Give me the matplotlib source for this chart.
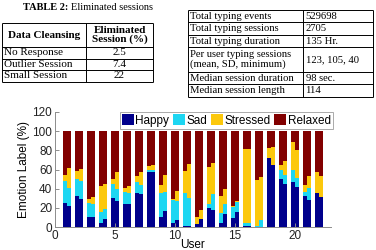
import numpy as np
import matplotlib.pyplot as plt

# ---- table data ----
clean_cols = ['Data Cleansing', 'Eliminated\nSession (%)']
clean_rows = [['No Response', '2.5'],
              ['Outlier Session', '7.4'],
              ['Small Session', '22']]
stats_rows = [['Total typing events', '529698'],
              ['Total typing sessions', '2705'],
              ['Total typing duration', '135 Hr.'],
              ['Per user typing sessions\n(mean, SD, minimum)', '123, 105, 40'],
              ['Median session duration', '98 sec.'],
              ['Median session length', '114']]

# ---- chart data (two half bars per user, %) ----
users = np.arange(1, 23)
happy_a = [25.5, 32, 10.5, 4.5, 30.5, 24.5, 36, 57.5, 10, 4, 1, 3, 19.5, 4, 9, 1, 0.5, 71.5, 50.5, 47, 32, 35.5]
sad_a = [22.5, 18.5, 15, 11, 14.5, 12.5, 11, 2.5, 25, 24, 35, 0, 5, 10.5, 11.5, 3.5, 1, 0, 8.5, 12, 4.5, 0]
stressed_a = [6, 7.5, 3.5, 27.5, 5.5, 4, 6, 4, 9, 1.5, 22, 7.5, 38, 17.5, 1, 76.5, 47.5, 10.5, 5.5, 30, 7, 22]
happy_b = [21.5, 29.5, 10, 8, 27, 23.5, 34, 57.5, 16.5, 7.5, 1, 8.5, 17.5, 14, 15.5, 1, 0.5, 64.5, 44.5, 42, 28.5, 31.5]
sad_b = [19.5, 18.5, 14.5, 11, 12.5, 11.5, 9.5, 1.5, 20.5, 19.5, 29, 0, 16.5, 9.5, 10.5, 3.5, 6.5, 0, 9.5, 9, 12.5, 0]
stressed_b = [21, 13, 7, 26, 17.5, 8, 14, 5.5, 17, 10.5, 36, 9, 32.5, 16, 1, 76.5, 45, 19, 15, 29.5, 12, 22]
relaxed_a = 100 - np.array(happy_a) - np.array(sad_a) - np.array(stressed_a)
relaxed_b = 100 - np.array(happy_b) - np.array(sad_b) - np.array(stressed_b)

labels = ['Happy', 'Sad', 'Stressed', 'Relaxed']
colors = ['#00008c', '#1dd6f2', '#fcc80c', '#820000']

W, H = 376, 250
fig = plt.figure(figsize=(W / 100, H / 100), dpi=100)

# overlay in pixel coords for the two tables
ov = fig.add_axes([0, 0, 1, 1])
ov.set_xlim(0, W)
ov.set_ylim(H, 0)
ov.axis('off')
serif = 'Liberation Serif'


def draw_table(xe, ye, rows, aligns, size, bold_first=False, ls=1.0):
    for x in xe:
        ov.vlines(x, ye[0], ye[-1], color='k', lw=0.7)
    for y in ye:
        ov.hlines(y, xe[0], xe[-1], color='k', lw=0.7)
    for i, row in enumerate(rows):
        yc = (ye[i] + ye[i + 1]) / 2
        for j, txt in enumerate(row):
            if aligns[j] == 'left':
                xt = xe[j] + 2.5
            else:
                xt = (xe[j] + xe[j + 1]) / 2
            ov.text(xt, yc, txt, ha=aligns[j], va='center', fontsize=size,
                    family=serif, linespacing=ls,
                    weight='bold' if (bold_first and i == 0) else 'normal')


# left table
ov.text(68, 7.5, 'TABLE 2:', ha='right', va='center', fontsize=7.5, family=serif, weight='bold')
ov.text(71, 7.5, 'Eliminated sessions', ha='left', va='center', fontsize=7.5, family=serif)
draw_table([2, 86, 153], [23, 47, 58.5, 70, 81.5], [clean_cols] + clean_rows,
           ['left', 'center'], 8, bold_first=True, ls=1.05)
ov.texts[-8].set_horizontalalignment('center')
ov.texts[-8].set_x(44)

# right table
draw_table([188, 303, 373], [10, 22.4, 34.8, 47.2, 71.9, 84.3, 96.7], stats_rows,
           ['left', 'left'], 7.7, ls=1.0)

# ---- stacked bar chart ----
ax = fig.add_axes([55 / W, 1 - 227 / H, 275.7 / W, 115 / H])
w = 0.35
for x_off, series in [(-w / 2, [happy_a, sad_a, stressed_a, relaxed_a]),
                      (w / 2, [happy_b, sad_b, stressed_b, relaxed_b])]:
    bottom = np.zeros(len(users))
    for k, vals in enumerate(series):
        ax.bar(users + x_off, vals, w, bottom=bottom, color=colors[k],
               label=labels[k] if x_off < 0 else None, linewidth=0)
        bottom = bottom + np.array(vals)

ax.set_xlim(0, 23)
ax.set_ylim(0, 120)
ax.set_xticks([0, 5, 10, 15, 20])
ax.set_yticks(np.arange(0, 121, 20))
for s in ['top', 'right']:
    ax.spines[s].set_visible(False)
for s in ['left', 'bottom']:
    ax.spines[s].set_color('#8c8c8c')
    ax.spines[s].set_linewidth(0.7)
ax.tick_params(direction='in', length=3, width=0.7, color='#8c8c8c',
               labelsize=8.5, pad=2, labelcolor='#222222')
for t in ax.get_xticklabels() + ax.get_yticklabels():
    t.set_family('Liberation Sans')
ax.set_xlabel('User', fontsize=8.5, family='Liberation Sans', labelpad=-2)
ax.set_ylabel('Emotion Label (%)', fontsize=8.5, family='Liberation Sans', labelpad=2)

leg = ax.legend(ncol=4, loc='upper right', bbox_to_anchor=(1.008, 1.0),
                handlelength=1.0, handleheight=1.0, handletextpad=0.15,
                columnspacing=0.3, borderpad=0.2, borderaxespad=0,
                fancybox=False, edgecolor='#aaaaaa', framealpha=1,
                prop={'family': 'Liberation Sans', 'size': 8.5})
leg.get_frame().set_linewidth(0.7)

fig.savefig('out.png', dpi=100)
